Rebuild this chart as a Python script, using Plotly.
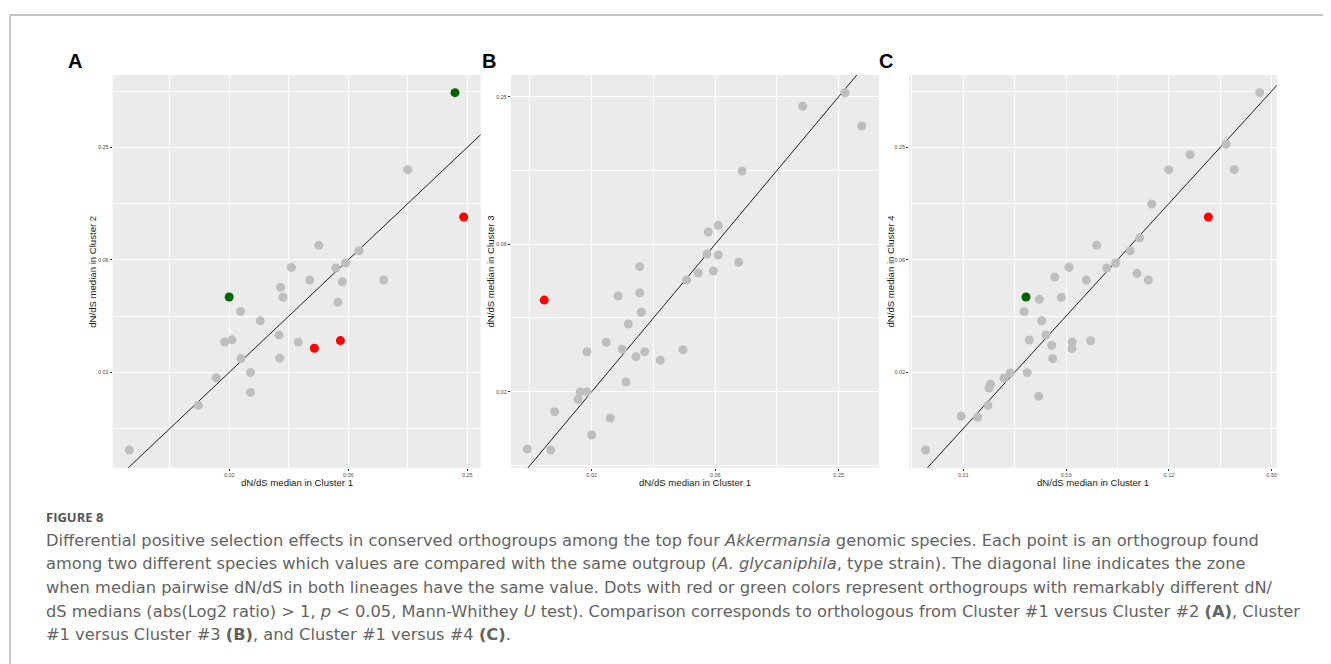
import math
import plotly.graph_objects as go

# ---------------- data (dN/dS medians) ----------------
# Panel A: Cluster 1 (x) vs Cluster 2 (y)
a_gray_x = [0.00487, 0.0109, 0.0134, 0.0148, 0.0161, 0.0178, 0.0179, 0.0200, 0.0200, 0.0224,
            0.0279, 0.0281, 0.0284, 0.0292, 0.0322, 0.0349, 0.0399, 0.0443, 0.0540, 0.0554,
            0.0583, 0.0606, 0.0708, 0.0944, 0.1249]
a_gray_y = [0.0060, 0.0104, 0.0146, 0.0227, 0.0233, 0.0330, 0.0185, 0.0156, 0.0122, 0.0295,
            0.0247, 0.0186, 0.0445, 0.0394, 0.0570, 0.0227, 0.0487, 0.0748, 0.0565, 0.0370,
            0.0477, 0.0601, 0.0699, 0.0487, 0.1897]
a_red_x = [0.0421, 0.0570, 0.2397]
a_red_y = [0.0210, 0.0231, 0.1059]
a_green_x = [0.0156, 0.2166]
a_green_y = [0.0395, 0.490]

# Panel B: Cluster 1 (x) vs Cluster 3 (y)
b_gray_x = [0.00758, 0.00986, 0.01031, 0.0134, 0.01374, 0.01482, 0.01482, 0.015625, 0.0184, 0.01925,
            0.02099, 0.02203, 0.02296, 0.02357, 0.02569, 0.02678, 0.02678, 0.02726, 0.02833, 0.03375,
            0.04355, 0.04537, 0.0517, 0.057, 0.05784, 0.06118, 0.0647, 0.0647, 0.08138, 0.08444,
            0.1669, 0.2682, 0.3236]
b_gray_y = [0.00912, 0.00903, 0.01295, 0.01455, 0.0156, 0.0156, 0.02275, 0.0104, 0.02486, 0.0122,
            0.0384, 0.02328, 0.01712, 0.02953, 0.02172, 0.0506, 0.03962, 0.03297, 0.02275, 0.02099,
            0.02318, 0.04466, 0.04766, 0.057, 0.07007, 0.04859, 0.05648, 0.07464, 0.05274, 0.1244,
            0.2285, 0.2594, 0.1898]
b_red_x = [0.00917]
b_red_y = [0.03697]
b_green_x = []
b_green_y = []

# Panel C: Cluster 1 (x) vs Cluster 4 (y)
c_gray_x = [0.0047, 0.0076, 0.00948, 0.0109, 0.01105, 0.0113, 0.01353, 0.01472, 0.01851, 0.0216,
            0.01903, 0.01778, 0.02178, 0.02249, 0.02383, 0.02574, 0.02608, 0.0268, 0.0293, 0.0325,
            0.03397, 0.03384, 0.04104, 0.04355, 0.0472, 0.05404, 0.061, 0.07426, 0.08127, 0.0843,
            0.0947, 0.09911, 0.1247, 0.1662, 0.27, 0.3018, 0.4255]
c_gray_y = [0.0060, 0.00909, 0.00898, 0.0104, 0.01288, 0.01348, 0.01457, 0.0155, 0.01555, 0.01162,
            0.02326, 0.03297, 0.0384, 0.0295, 0.02474, 0.0218, 0.01848, 0.05056, 0.03937, 0.057,
            0.0227, 0.0209, 0.0487, 0.02306, 0.07476, 0.0565, 0.06007, 0.0699, 0.0529, 0.08178,
            0.0487, 0.1243, 0.1897, 0.2282, 0.2604, 0.1897, 0.490]
c_red_x = [0.2127]
c_red_y = [0.1059]
c_green_x = [0.0182]
c_green_y = [0.0395]

# tick breaks (log2 scale) and their printed labels
ab_x_ticks = [0.015625, 0.0625, 0.25]
ab_x_labels = ["0.02", "0.06", "0.25"]
c_x_ticks = [0.0078125, 0.03125, 0.125, 0.5]
c_x_labels = ["0.01", "0.03", "0.12", "0.50"]
y_ticks = [0.015625, 0.0625, 0.25]
y_labels = ["0.02", "0.06", "0.25"]
ab_x_minor = [0.0078125, 0.03125, 0.125]
c_x_minor = [0.00390625, 0.015625, 0.0625, 0.25]
y_minor = [0.0078125, 0.03125, 0.125, 0.5]

y_titles = ["dN/dS median in Cluster 2", "dN/dS median in Cluster 3", "dN/dS median in Cluster 4"]
x_title = "dN/dS median in Cluster 1"
panel_letters = ["A", "B", "C"]

# ---------------- layout geometry ----------------
# the page body adds an 8 px margin, so the figure is drawn 8 px smaller and
# all window positions are shifted by OFF
OFF = 8
W, H = 1331 - OFF, 664 - OFF
L2 = math.log10(2)


def fx(px):
    return (px - OFF) / W


def fy(py):
    return 1 - (py - OFF) / H


panels = [
    dict(px=(112.7, 480.7), xr=(-7.96, -1.775), yr=(-7.696, -0.715),
         gx=a_gray_x, gy=a_gray_y, rx=a_red_x, ry=a_red_y, grx=a_green_x, gry=a_green_y,
         xt=ab_x_ticks, xl=ab_x_labels, xm=ab_x_minor, ytx=92.3, letter_x=75),
    dict(px=(511.0, 879.0), xr=(-7.307, -1.347), yr=(-7.03, -1.706),
         gx=b_gray_x, gy=b_gray_y, rx=b_red_x, ry=b_red_y, grx=b_green_x, gry=b_green_y,
         xt=ab_x_ticks, xl=ab_x_labels, xm=ab_x_minor, ytx=490.0, letter_x=489),
    dict(px=(909.3, 1276.7), xr=(-8.05, -0.903), yr=(-7.696, -0.715),
         gx=c_gray_x, gy=c_gray_y, rx=c_red_x, ry=c_red_y, grx=c_green_x, gry=c_green_y,
         xt=c_x_ticks, xl=c_x_labels, xm=c_x_minor, ytx=890.0, letter_x=886),
]
top_px, bot_px = 75.0, 467.7

fig = go.Figure()
annotations = []
layout_axes = {}
for i, p in enumerate(panels):
    n = "" if i == 0 else str(i + 1)
    xa, ya = "x" + n, "y" + n
    # diagonal y = x
    fig.add_trace(go.Scatter(x=[0.001, 1.0], y=[0.001, 1.0], mode="lines",
                             line=dict(color="#1F1F1F", width=1.0),
                             xaxis=xa, yaxis=ya, showlegend=False, hoverinfo="skip"))
    for xs, ys, col in [(p["gx"], p["gy"], "#BEBEBE"), (p["rx"], p["ry"], "#FF0000"),
                        (p["grx"], p["gry"], "#006400")]:
        if xs:
            fig.add_trace(go.Scatter(x=xs, y=ys, mode="markers",
                                     marker=dict(color=col, size=9, line=dict(width=0)),
                                     xaxis=xa, yaxis=ya, showlegend=False))
    common = dict(type="log", showline=False, zeroline=False, ticks="outside",
                  ticklen=2, tickwidth=0.6, tickcolor="#333333",
                  tickfont=dict(family="Liberation Sans", size=5.5, color="#4D4D4D"),
                  gridcolor="#FFFFFF", gridwidth=1.1, tickmode="array")
    layout_axes["xaxis" + n] = dict(
        common, domain=[fx(p["px"][0]), fx(p["px"][1])],
        range=[p["xr"][0] * L2, p["xr"][1] * L2], anchor=ya,
        tickvals=p["xt"], ticktext=p["xl"],
        minor=dict(tickmode="array", tickvals=p["xm"], showgrid=True,
                   gridcolor="#FFFFFF", gridwidth=0.5, ticks=""))
    layout_axes["yaxis" + n] = dict(
        common, domain=[fy(bot_px), fy(top_px)],
        range=[p["yr"][0] * L2, p["yr"][1] * L2], anchor=xa,
        tickvals=y_ticks, ticktext=y_labels,
        minor=dict(tickmode="array", tickvals=y_minor, showgrid=True,
                   gridcolor="#FFFFFF", gridwidth=0.5, ticks=""))
    # axis titles
    annotations.append(dict(text=x_title, xref="paper", yref="paper",
                            x=fx((p["px"][0] + p["px"][1]) / 2), y=fy(482.0),
                            xanchor="center", yanchor="middle", showarrow=False,
                            font=dict(family="Liberation Sans", size=9.6, color="#1A1A1A")))
    annotations.append(dict(text=y_titles[i], xref="paper", yref="paper",
                            x=fx(p["ytx"]), y=fy(271.5), textangle=-90,
                            xanchor="center", yanchor="middle", showarrow=False,
                            font=dict(family="Liberation Sans", size=9.6, color="#1A1A1A")))
    annotations.append(dict(text="<b>" + panel_letters[i] + "</b>", xref="paper", yref="paper",
                            x=fx(p["letter_x"]), y=fy(61.0),
                            xanchor="center", yanchor="middle", showarrow=False,
                            font=dict(family="Liberation Sans", size=20, color="#000000")))

# caption
cap_font = dict(family="DejaVu Sans", size=16.25, color="#636363")
annotations.append(dict(text="<b>FIGURE 8</b>", xref="paper", yref="paper",
                        x=fx(44), y=fy(517.0), xanchor="left", yanchor="middle",
                        showarrow=False, font=dict(family="Open Sans", size=13, color="#555555")))
caption_lines = [
    "Differential positive selection effects in conserved orthogroups among the top four <i>Akkermansia</i> genomic species. Each point is an orthogroup found",
    "among two different species which values are compared with the same outgroup (<i>A. glycaniphila</i>, type strain). The diagonal line indicates the zone",
    "when median pairwise dN/dS in both lineages have the same value. Dots with red or green colors represent orthogroups with remarkably different dN/",
    "dS medians (abs(Log2 ratio) > 1, <i>p</i> < 0.05, Mann-Whithey <i>U</i> test). Comparison corresponds to orthologous from Cluster #1 versus Cluster #2 <b>(A)</b>, Cluster",
    "#1 versus Cluster #3 <b>(B)</b>, and Cluster #1 versus #4 <b>(C)</b>.",
]
for k, line in enumerate(caption_lines):
    annotations.append(dict(text=line, xref="paper", yref="paper",
                            x=fx(44), y=fy(540.0 + 23.7 * k),
                            xanchor="left", yanchor="middle", showarrow=False,
                            font=cap_font))

shapes = [
    dict(type="line", xref="paper", yref="paper", x0=fx(10), x1=1.0, y0=fy(15), y1=fy(15),
         line=dict(color="#AFAFAF", width=1.3)),
    dict(type="line", xref="paper", yref="paper", x0=fx(10), x1=fx(10), y0=fy(15), y1=0.0,
         line=dict(color="#AFAFAF", width=1.3)),
]

fig.update_layout(width=W, height=H, margin=dict(l=0, r=0, t=0, b=0),
                  paper_bgcolor="#FFFFFF", plot_bgcolor="#EBEBEB",
                  annotations=annotations, shapes=shapes, showlegend=False,
                  **layout_axes)
fig.write_html("out.html")
